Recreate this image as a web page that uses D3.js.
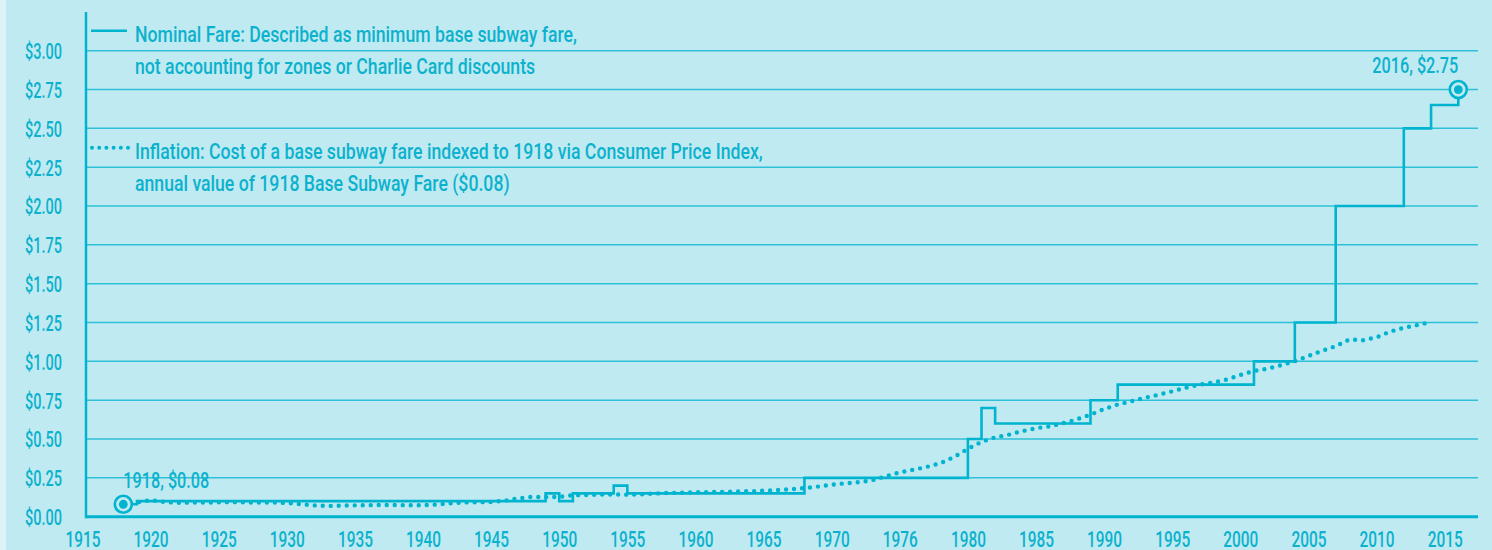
<!DOCTYPE html>
<html>
<head>
<meta charset="utf-8">
<script src="https://cdn.jsdelivr.net/npm/d3@7"></script>
<style>
  body { margin: 0; background: #dcf3f7; }
  svg { display: block; }
  text { font-family: Roboto, "DejaVu Sans Condensed", sans-serif; font-weight: 500; fill: #0cb2cd; }
</style>
</head>
<body>
<svg id="svg" width="1492" height="550"></svg>
<script>
// nominal base subway fare, year it took effect
var fareYears = [1918, 1919, 1949, 1950, 1951, 1954, 1955, 1968, 1980, 1981, 1982, 1989, 1991, 2001, 2004, 2007, 2012, 2014, 2016];
var fareValues = [0.08, 0.10, 0.15, 0.10, 0.15, 0.20, 0.15, 0.25, 0.50, 0.70, 0.60, 0.75, 0.85, 1.00, 1.25, 2.00, 2.50, 2.65, 2.75];

// 1918 fare ($0.08) carried forward with CPI, one value per year 1918-2014
var cpiYears = d3.range(1918, 2015);
var cpiValues = [
  0.080, 0.092, 0.106, 0.095, 0.089, 0.091, 0.091, 0.093, 0.094, 0.092,
  0.091, 0.091, 0.088, 0.081, 0.073, 0.069, 0.071, 0.073, 0.074, 0.076,
  0.075, 0.074, 0.074, 0.078, 0.086, 0.092, 0.093, 0.095, 0.103, 0.118,
  0.128, 0.126, 0.128, 0.138, 0.140, 0.142, 0.143, 0.142, 0.144, 0.149,
  0.153, 0.154, 0.157, 0.158, 0.160, 0.162, 0.164, 0.167, 0.172, 0.177,
  0.184, 0.194, 0.206, 0.215, 0.222, 0.235, 0.261, 0.285, 0.302, 0.321,
  0.345, 0.385, 0.437, 0.482, 0.511, 0.528, 0.551, 0.570, 0.581, 0.602,
  0.627, 0.657, 0.693, 0.722, 0.743, 0.766, 0.785, 0.807, 0.831, 0.850,
  0.864, 0.883, 0.912, 0.938, 0.953, 0.975, 1.001, 1.035, 1.068, 1.098,
  1.141, 1.136, 1.155, 1.192, 1.216, 1.234, 1.254
];

var xTicks = d3.range(1915, 2020, 5);
var xTickLabels = ["1915", "1920", "1925", "1930", "1935", "1940", "1945", "1950", "1955", "1960", "1965",
  "1970", "1976", "1980", "1985", "1990", "1995", "2000", "2005", "2010", "2015"];
var yTicks = d3.range(0, 3.01, 0.25);
var yTickLabels = ["$0.00", "$0.25", "$0.50", "$0.75", "$1.00", "$1.25", "$1.50", "$1.75", "$2.00", "$2.25", "$2.50", "$2.75", "$3.00"];

var legendNominal = ["Nominal Fare: Described as minimum base subway fare,", "not accounting for zones or Charlie Card discounts"];
var legendInflation = ["Inflation: Cost of a base subway fare indexed to 1918 via Consumer Price Index,", "annual value of 1918 Base Subway Fare ($0.08)"];

var lineColor = "#00b4cf";
var gridColor = "#2ec0d7";

// squeeze a text group so its first item has the given width (the original uses a narrow gothic face)
function condense(sel, firstWidth) {
  var k = firstWidth / sel.node().getComputedTextLength();
  sel.each(function() {
    var w = this.getComputedTextLength();
    d3.select(this).attr("textLength", w * k).attr("lengthAdjust", "spacingAndGlyphs");
  });
}

var svg = d3.select("#svg");
svg.append("rect").attr("x", 6).attr("y", 0).attr("width", 1486).attr("height", 550).attr("fill", "#c0eaf1");

var x = d3.scaleLinear().domain([1918, 2016]).range([123.3, 1458.3]);
var y = d3.scaleLinear().domain([0, 3]).range([516.7, 50.7]);
var left = 86, right = 1478;

// grid
svg.append("g").selectAll("line")
  .data(yTicks.slice(1))
  .enter().append("line")
  .attr("x1", left).attr("x2", right)
  .attr("y1", function(d) { return y(d); })
  .attr("y2", function(d) { return y(d); })
  .attr("stroke", gridColor)
  .attr("stroke-width", 1.5);

// y axis labels
var yAxis = d3.axisLeft(y).tickValues(yTicks)
  .tickFormat(function(d, i) { return yTickLabels[i]; })
  .tickSize(0).tickPadding(24);
var gy = svg.append("g").attr("transform", "translate(" + left + ",0)").call(yAxis);
gy.select(".domain").remove();
gy.selectAll("text").attr("font-size", 22).attr("dy", "0.36em").attr("font-family", null).attr("fill", null);
condense(gy.selectAll("text"), 37);

// x axis labels
var xAxis = d3.axisBottom(x).tickValues(xTicks)
  .tickFormat(function(d, i) { return xTickLabels[i]; })
  .tickSize(0).tickPadding(0);
var gx = svg.append("g").attr("transform", "translate(0,547)").call(xAxis);
gx.select(".domain").remove();
gx.selectAll("text").attr("font-size", 22).attr("dy", 0).attr("font-family", null).attr("fill", null);
condense(gx.selectAll("text"), 35);

// axis lines
svg.append("line").attr("x1", left).attr("x2", right).attr("y1", y(0)).attr("y2", y(0))
  .attr("stroke", lineColor).attr("stroke-width", 3);
svg.append("line").attr("x1", left).attr("x2", left).attr("y1", 12).attr("y2", y(0) + 1.5)
  .attr("stroke", lineColor).attr("stroke-width", 2.5);

// inflation dotted line
var cpiLine = d3.line()
  .x(function(d, i) { return x(cpiYears[i]); })
  .y(function(d) { return y(d); });
svg.append("path").datum(cpiValues)
  .attr("d", cpiLine)
  .attr("fill", "none")
  .attr("stroke", lineColor)
  .attr("stroke-width", 4.4)
  .attr("stroke-linecap", "round")
  .attr("stroke-dasharray", "0,8");

// nominal fare steps
var fareLine = d3.line()
  .x(function(d, i) { return x(fareYears[i]); })
  .y(function(d) { return y(d); })
  .curve(d3.curveStepAfter);
svg.append("path").datum(fareValues)
  .attr("d", fareLine)
  .attr("fill", "none")
  .attr("stroke", lineColor)
  .attr("stroke-width", 2.6);

// end markers
var ends = [0, fareValues.length - 1];
ends.forEach(function(i) {
  svg.append("circle").attr("cx", x(fareYears[i])).attr("cy", y(fareValues[i])).attr("r", 8.5)
    .attr("fill", "#c0eaf1").attr("stroke", lineColor).attr("stroke-width", 2.6);
  svg.append("circle").attr("cx", x(fareYears[i])).attr("cy", y(fareValues[i])).attr("r", 4.4)
    .attr("fill", lineColor);
});
var ann = svg.append("g");
ann.append("text").attr("x", x(fareYears[0])).attr("y", 488).attr("font-size", 22)
  .text(fareYears[0] + ", $" + fareValues[0].toFixed(2));
ann.append("text").attr("x", x(fareYears[fareYears.length - 1])).attr("y", 73).attr("font-size", 22)
  .attr("text-anchor", "end")
  .text(fareYears[fareYears.length - 1] + ", $" + fareValues[fareValues.length - 1].toFixed(2));
condense(ann.selectAll("text"), 86);

// legend
svg.append("line").attr("x1", 91).attr("x2", 127).attr("y1", 30.7).attr("y2", 30.7)
  .attr("stroke", lineColor).attr("stroke-width", 2.6);
svg.append("line").attr("x1", 92).attr("x2", 128).attr("y1", 147.7).attr("y2", 147.7)
  .attr("stroke", lineColor).attr("stroke-width", 4).attr("stroke-linecap", "round")
  .attr("stroke-dasharray", "0,7.2");
var leg = svg.append("g");
leg.selectAll(".legN").data(legendNominal).enter().append("text")
  .attr("x", 135).attr("y", function(d, i) { return 41.5 + i * 32; })
  .attr("font-size", 22).text(function(d) { return d; });
leg.selectAll(".legI").data(legendInflation).enter().append("text")
  .attr("x", 135).attr("y", function(d, i) { return 158.5 + i * 32; })
  .attr("font-size", 22).text(function(d) { return d; });
condense(leg.selectAll("text"), 442);
</script>
</body>
</html>
